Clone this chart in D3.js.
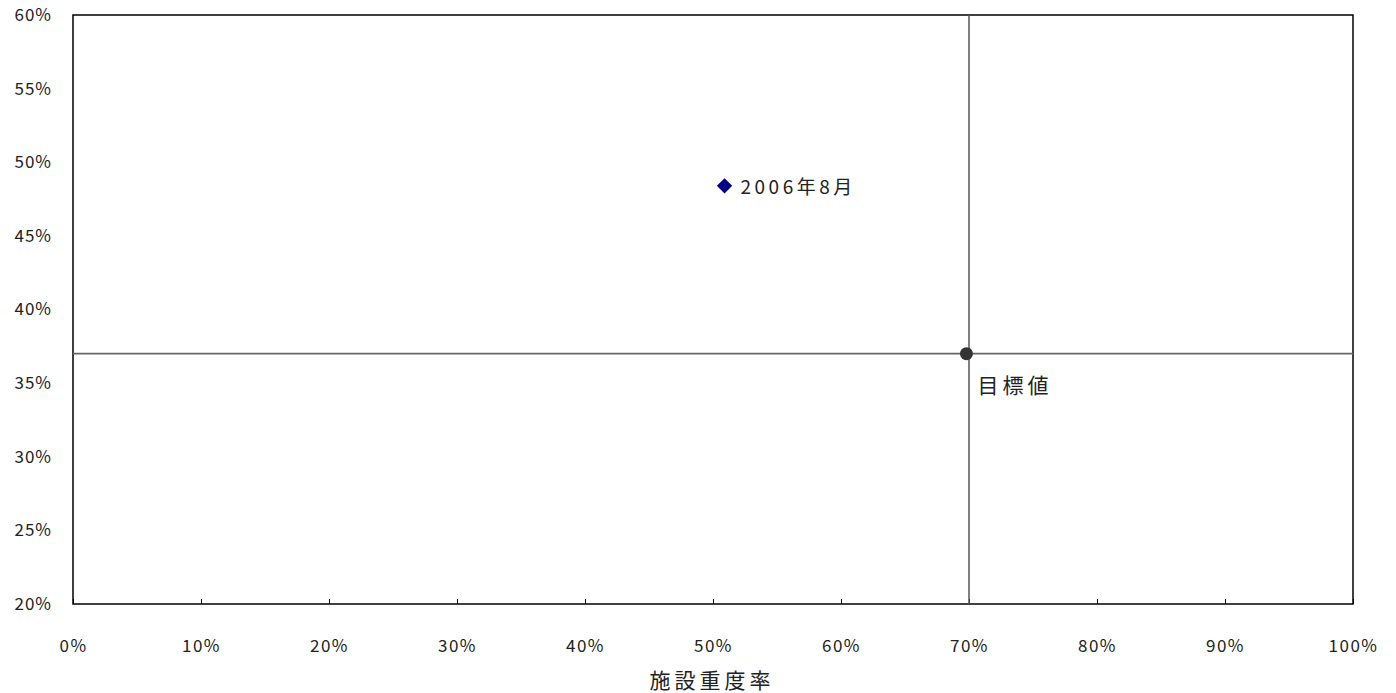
<!DOCTYPE html>
<html>
<head>
<meta charset="utf-8">
<script src="https://cdn.jsdelivr.net/npm/d3@7"></script>
<style>
  body { margin: 0; background: #fff; }
  text { font-family: "Noto Sans CJK JP", "DejaVu Sans", sans-serif; fill: #222; }
</style>
</head>
<body>
<div id="chart"></div>
<script>
// data
var x_ticks = [0, 0.1, 0.2, 0.3, 0.4, 0.5, 0.6, 0.7, 0.8, 0.9, 1.0];
var y_ticks = [0.20, 0.25, 0.30, 0.35, 0.40, 0.45, 0.50, 0.55, 0.60];
var point_labels = ['2006年8月', '目標値'];
var point_x = [0.509, 0.698];
var point_y = [0.484, 0.370];
var target_x = 0.70;
var target_y = 0.37;
var x_title = '施設重度率';

var chart_width = 1396;
var chart_height = 693;
var plot_left = 73, plot_right = 1353, plot_top = 15, plot_bottom = 604;

var svg = d3.select('#chart')
    .append('svg')
    .attr('width', chart_width)
    .attr('height', chart_height);

var x_scale = d3.scaleLinear().domain([0, 1]).range([plot_left, plot_right]);
var y_scale = d3.scaleLinear().domain([0.2, 0.6]).range([plot_bottom, plot_top]);

var fmt = function (d) { return Math.round(d * 100) + '%'; };

// x axis with inward ticks
var x_axis = d3.axisBottom(x_scale).tickValues(x_ticks).tickSize(-5).tickFormat(fmt);
var gx = svg.append('g').attr('transform', 'translate(0,' + plot_bottom + ')').call(x_axis);
gx.select('.domain').remove();
gx.selectAll('line').attr('stroke', '#000');
gx.selectAll('text').attr('y', 36).attr('font-size', 17).attr('letter-spacing', 1.5)
    .attr('fill', '#222');

// y axis, labels only
var y_axis = d3.axisLeft(y_scale).tickValues(y_ticks).tickSize(0).tickFormat(fmt);
var gy = svg.append('g').attr('transform', 'translate(' + plot_left + ',0)').call(y_axis);
gy.select('.domain').remove();
gy.selectAll('text').attr('x', -21).attr('font-size', 17).attr('letter-spacing', 1)
    .attr('fill', '#222');

// frame
svg.append('rect')
    .attr('x', plot_left).attr('y', plot_top)
    .attr('width', plot_right - plot_left).attr('height', plot_bottom - plot_top)
    .attr('fill', 'none').attr('stroke', '#000').attr('stroke-width', 1.5);

// target lines
svg.append('line')
    .attr('x1', x_scale(target_x)).attr('x2', x_scale(target_x))
    .attr('y1', plot_top).attr('y2', plot_bottom)
    .attr('stroke', '#555').attr('stroke-width', 1.5);
svg.append('line')
    .attr('x1', plot_left).attr('x2', plot_right)
    .attr('y1', y_scale(target_y)).attr('y2', y_scale(target_y))
    .attr('stroke', '#666').attr('stroke-width', 1.8);

// points
svg.append('path')
    .attr('d', d3.symbol().type(d3.symbolDiamond2).size(150))
    .attr('transform', 'translate(' + x_scale(point_x[0]) + ',' + y_scale(point_y[0]) + ')')
    .attr('fill', '#000080');
svg.append('circle')
    .attr('cx', x_scale(point_x[1])).attr('cy', y_scale(point_y[1]))
    .attr('r', 6.5).attr('fill', '#333');

// point labels
svg.append('text')
    .text(point_labels[0])
    .attr('x', x_scale(point_x[0]) + 16).attr('y', y_scale(point_y[0]) + 8)
    .attr('font-size', 19).attr('letter-spacing', 3.5);
svg.append('text')
    .text(point_labels[1])
    .attr('x', x_scale(point_x[1]) + 11).attr('y', y_scale(point_y[1]) + 39)
    .attr('font-size', 21).attr('letter-spacing', 4);

// axis title
svg.append('text')
    .text(x_title)
    .attr('x', (plot_left + plot_right) / 2 - 1).attr('y', 688)
    .attr('text-anchor', 'middle')
    .attr('font-size', 21).attr('letter-spacing', 4);
</script>
</body>
</html>
